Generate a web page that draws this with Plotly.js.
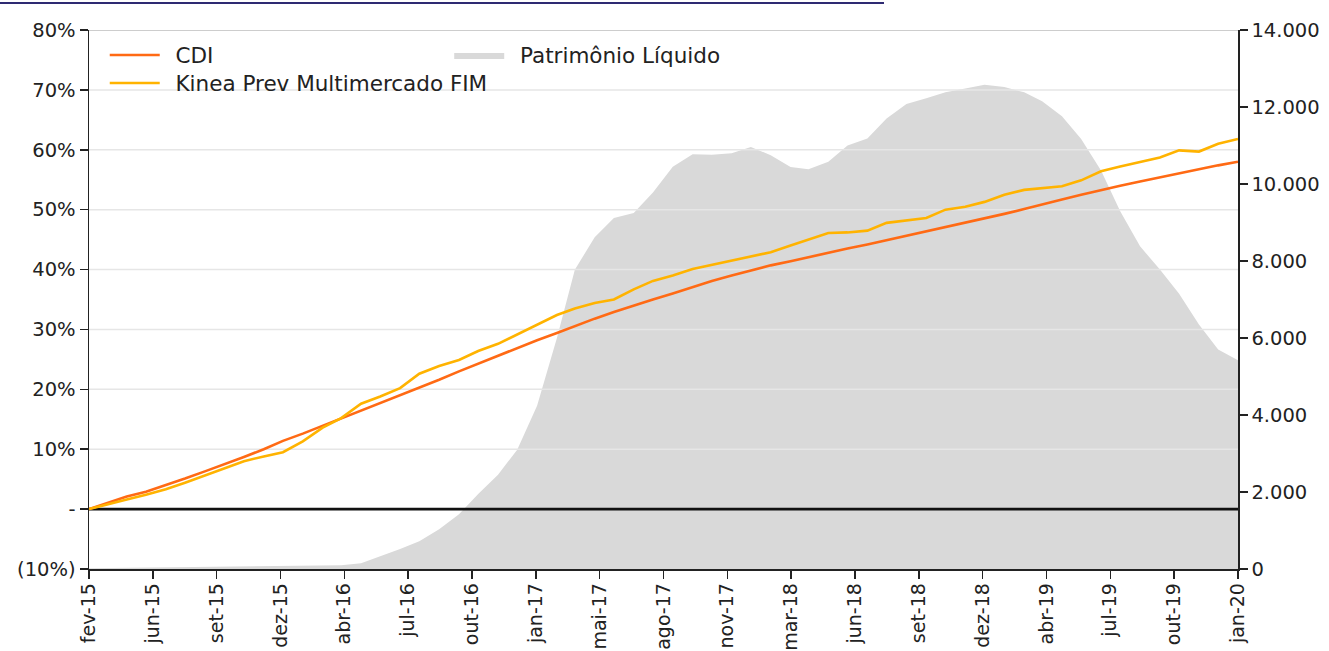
<!DOCTYPE html>
<html><head><meta charset="utf-8">
<script src="https://cdn.plot.ly/plotly-3.0.1.min.js"></script>
<style>html,body{margin:0;padding:0;background:#fff}#chart{width:1329px;height:651px}</style>
</head><body><div id="chart"></div>
<script>
// Monthly observation dates (fev-2015 .. jan-2020)
const dates = [];
for (let y = 2015, m = 2; !(y === 2020 && m === 2);) {
  dates.push(y + '-' + String(m).padStart(2, '0') + '-01');
  m++; if (m > 12) { m = 1; y++; }
}

// Accumulated return, % (left axis)
const cdi = [0, 1.0, 2.1, 2.9, 4.0, 5.1, 6.3, 7.5, 8.7, 10.0,
  11.4, 12.6, 13.9, 15.1, 16.4, 17.7, 19.0, 20.3, 21.6, 23.0,
  24.3, 25.6, 26.9, 28.2, 29.4, 30.6, 31.8, 32.9, 34.0, 35.0,
  36.0, 37.1, 38.1, 39.0, 39.9, 40.7, 41.4, 42.1, 42.8, 43.5,
  44.2, 44.9, 45.7, 46.4, 47.1, 47.8, 48.5, 49.3, 50.1, 50.9,
  51.7, 52.5, 53.3, 54.0, 54.7, 55.4, 56.1, 56.8, 57.4, 58.0];

const kinea = [0, 0.8, 1.6, 2.4, 3.3, 4.4, 5.6, 6.8, 8.0, 8.8,
  9.5, 11.3, 13.6, 15.2, 17.6, 18.8, 20.2, 22.6, 23.9, 24.9,
  26.4, 27.6, 29.2, 30.8, 32.4, 33.5, 34.4, 35.0, 36.7, 38.1,
  39.0, 40.1, 40.8, 41.4, 42.1, 42.9, 44.0, 45.0, 46.1, 46.2,
  46.5, 47.8, 48.2, 48.6, 50.0, 50.5, 51.3, 52.5, 53.3, 53.6,
  53.9, 54.9, 56.4, 57.2, 57.9, 58.7, 59.9, 59.7, 61.0, 61.8];

// Patrimônio Líquido (right axis)
const pl = [20, 25, 30, 35, 40, 45, 50, 55, 60, 65,
  70, 80, 90, 100, 150, 330, 520, 720, 1030, 1420,
  1950, 2450, 3100, 4240, 6000, 7770, 8620, 9120, 9250, 9780,
  10450, 10770, 10760, 10800, 10960, 10750, 10440, 10380, 10580, 11000,
  11180, 11700, 12080, 12230, 12380, 12480, 12580, 12520, 12380, 12150,
  11760, 11170, 10350, 9290, 8380, 7780, 7150, 6350, 5700, 5420];

const xTickLabels = ['fev-15','jun-15','set-15','dez-15','abr-16','jul-16','out-16','jan-17','mai-17','ago-17','nov-17','mar-18','jun-18','set-18','dez-18','abr-19','jul-19','out-19','jan-20'];
const pctTickVals = [-10, 0, 10, 20, 30, 40, 50, 60, 70, 80];
const pctTickText = ['(10%)', '-', '10%', '20%', '30%', '40%', '50%', '60%', '70%', '80%'];
const plTickVals = [0, 2000, 4000, 6000, 8000, 10000, 12000, 14000];

const names = { cdi: 'CDI', kinea: 'Kinea Prev Multimercado FIM', pl: 'Patrimônio Líquido' };
const GAP = '\u2002';

// evenly spaced category-style ticks across the date range
const t0 = Date.parse(dates[0] + 'T00:00:00Z');
const t1 = Date.parse(dates[dates.length - 1] + 'T00:00:00Z');
const fmt = t => new Date(t).toISOString().replace('T', ' ').slice(0, 19);
const xTickVals = xTickLabels.map((_, i) => fmt(t0 + (t1 - t0) * i / (xTickLabels.length - 1)));

// gridlines drawn as a trace so they sit above the area but below the lines
const gx = [], gy = [];
pctTickVals.filter(v => v > 0 && v < 80).forEach(v => { gx.push(dates[0], dates[dates.length - 1], null); gy.push(v, v, null); });
const topVal = pctTickVals[pctTickVals.length - 1];

const FONT = 'DejaVu Sans, sans-serif';
const TICKFONT = { family: FONT, size: 19.5, color: '#222' };
const LEGFONT = { family: FONT, size: 21.5, color: '#222' };
const traces = [
  { x: dates, y: pl, name: GAP + names.pl, type: 'scatter', mode: 'lines', fill: 'tozeroy',
    fillcolor: '#D9D9D9', line: { width: 0, color: '#D9D9D9' }, yaxis: 'y', legend: 'legend2', hoverinfo: 'skip' },
  { x: gx, y: gy, type: 'scatter', mode: 'lines', line: { color: '#E6E6E6', width: 1.5 },
    yaxis: 'y2', showlegend: false, hoverinfo: 'skip' },
  { x: [dates[0], dates[dates.length - 1]], y: [topVal, topVal], type: 'scatter', mode: 'lines',
    line: { color: '#BDBDBD', width: 1.5 }, yaxis: 'y2', showlegend: false, hoverinfo: 'skip' },
  { x: [dates[0], dates[dates.length - 1]], y: [0, 0], type: 'scatter', mode: 'lines',
    line: { color: '#111111', width: 2.6 }, yaxis: 'y2', showlegend: false, hoverinfo: 'skip' },
  { x: dates, y: cdi, name: GAP + names.cdi, type: 'scatter', mode: 'lines',
    line: { color: '#FF6A14', width: 2.6 }, yaxis: 'y2', legend: 'legend' },
  { x: dates, y: kinea, name: GAP + names.kinea, type: 'scatter', mode: 'lines',
    line: { color: '#FFB300', width: 2.6 }, yaxis: 'y2', legend: 'legend3' }
];

const legBase = { xanchor: 'left', yanchor: 'middle', orientation: 'v', bgcolor: 'rgba(0,0,0,0)', font: LEGFONT, itemwidth: 50 };
const layout = {
  width: 1329, height: 651,
  margin: { l: 89, r: 91, t: 30, b: 82 },
  paper_bgcolor: '#fff', plot_bgcolor: '#fff',
  separators: ',.',
  font: { family: FONT, size: 19.5, color: '#222' },
  showlegend: true,
  xaxis: {
    type: 'date', range: [dates[0], dates[dates.length - 1]],
    tickvals: xTickVals, ticktext: xTickLabels, tickangle: -90,
    showgrid: false, zeroline: false, showline: true, linecolor: '#222', linewidth: 1.5,
    ticks: 'outside', ticklen: 8, tickcolor: '#222', tickwidth: 1.5, ticklabelstandoff: -3,
    tickfont: { family: FONT, size: 19, color: '#222' }
  },
  yaxis: {
    side: 'right', range: [0, 14000], tickvals: plTickVals, tickformat: ',d',
    showgrid: false, zeroline: false, showline: true, linecolor: '#222', linewidth: 1.5,
    ticks: 'outside', ticklen: 8, tickcolor: '#222', tickwidth: 1.5,
    tickfont: TICKFONT
  },
  yaxis2: {
    overlaying: 'y', side: 'left', range: [-10, 80],
    tickvals: pctTickVals, ticktext: pctTickText,
    showgrid: false, zeroline: false, showline: true, linecolor: '#222', linewidth: 1.5,
    ticks: 'outside', ticklen: 8, tickcolor: '#222', tickwidth: 1.5,
    tickfont: TICKFONT
  },
  legend: Object.assign({}, legBase, { x: 0.0137, y: 1 - (55 - 30) / 539 }),
  legend3: Object.assign({}, legBase, { x: 0.0137, y: 1 - (83 - 30) / 539 }),
  legend2: Object.assign({}, legBase, { x: 0.3135, y: 1 - (55 - 30) / 539 }),
  shapes: [
    { type: 'line', xref: 'paper', yref: 'paper', x0: -89 / 1149, x1: (884 - 89) / 1149,
      y0: 1 + 27 / 539, y1: 1 + 27 / 539, line: { color: '#2E2A72', width: 2 } }
  ]
};

Plotly.newPlot('chart', traces, layout, { displayModeBar: false, staticPlot: true });
</script>
</body></html>
